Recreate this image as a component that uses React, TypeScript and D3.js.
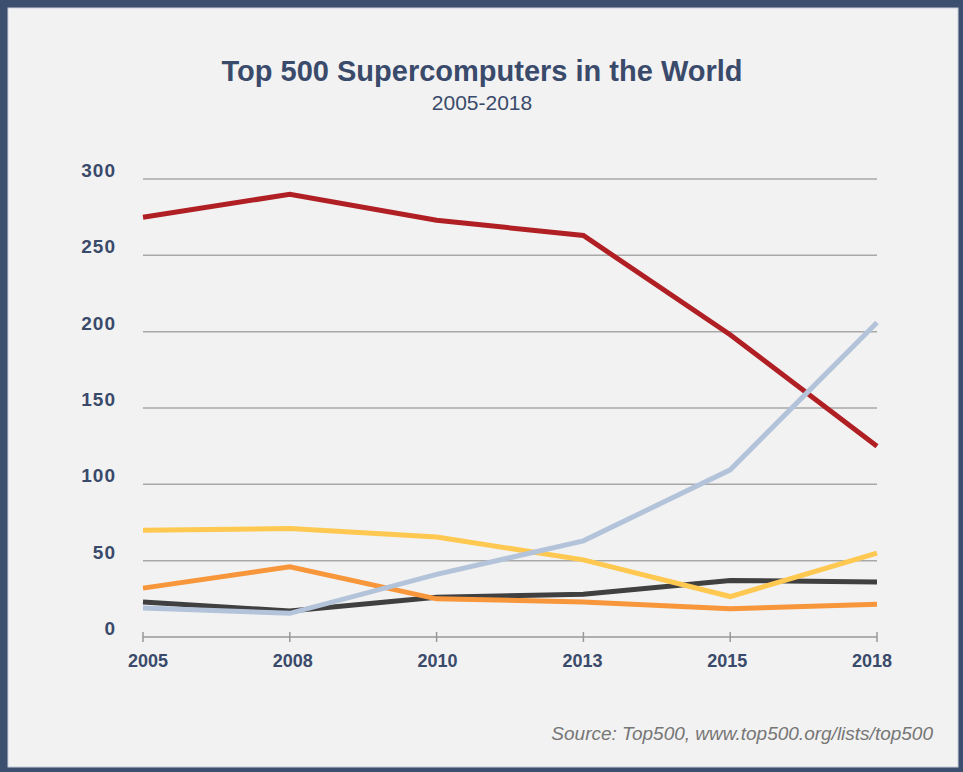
import React from "react";
import * as d3 from "d3";

const years = ["2005", "2008", "2010", "2013", "2015", "2018"];
const yTicks = [0, 50, 100, 150, 200, 250, 300];
const seriesNames = ["red", "lightblue", "yellow", "orange", "dark"];
const redVals = [275, 290, 273, 263, 198, 125];
const blueVals = [19, 15.5, 41, 63, 109.5, 206];
const yellowVals = [70, 71, 65.5, 50.5, 26.5, 55];
const orangeVals = [32, 46, 25, 23, 18.5, 21.5];
const darkVals = [23, 17, 26, 28, 37, 36];
const colors = ["#b01f24", "#b3c3d9", "#fec851", "#f7963a", "#404040"];

const W = 963;
const H = 772;
const navy = "#3a4a6b";

export default function App() {
  const x = d3.scalePoint<string>().domain(years).range([143, 877]);
  const y = d3.scaleLinear().domain([0, 300]).range([637, 179]);
  const line = d3
    .line<number>()
    .x((_, i) => x(years[i]) as number)
    .y((d) => y(d));
  const all = [redVals, blueVals, yellowVals, orangeVals, darkVals];
  const order = [0, 4, 3, 2, 1];
  return (
    <svg
      width={W}
      height={H}
      style={{ position: "absolute", left: 0, top: 0 }}
      fontFamily="'Liberation Sans', Arial, sans-serif"
    >
      <rect x={0} y={0} width={W} height={H} fill="#3d4f6e" />
      <rect x={8} y={8} width={W - 13} height={H - 13} fill="#f2f2f2" stroke="#c9cfdb" strokeWidth={1} />
      <text x={482} y={81} textAnchor="middle" fontSize={29} fontWeight="bold" fill={navy}>
        Top 500 Supercomputers in the World
      </text>
      <text x={482} y={110} textAnchor="middle" fontSize={21} fill={navy}>
        2005-2018
      </text>
      {yTicks.map((t) => (
        <g key={t}>
          {t > 0 && (
            <line x1={143} x2={877} y1={y(t)} y2={y(t)} stroke="#a8a8a8" strokeWidth={1.5} />
          )}
          <text
            x={116}
            y={y(t) - 2}
            textAnchor="end"
            fontSize={19}
            fontWeight="bold"
            fill={navy}
            letterSpacing={1}
          >
            {t}
          </text>
        </g>
      ))}
      <line x1={143} x2={877} y1={y(0)} y2={y(0)} stroke="#999" strokeWidth={1.5} />
      {years.map((yr, i) => (
        <g key={yr}>
          <line x1={x(yr)} x2={x(yr)} y1={y(0) - 5} y2={y(0) + 5} stroke="#999" strokeWidth={1.5} />
          <text
            x={(x(yr) as number) + 5 - i * 2}
            y={667}
            textAnchor="middle"
            fontSize={18}
            fontWeight="bold"
            fill={navy}
          >
            {yr}
          </text>
        </g>
      ))}
      {order.map((i) => (
        <path
          key={seriesNames[i]}
          d={line(all[i]) || ""}
          fill="none"
          stroke={colors[i]}
          strokeWidth={5}
          strokeLinejoin="miter"
        />
      ))}
      <text
        x={933}
        y={740}
        textAnchor="end"
        fontSize={19}
        fontStyle="italic"
        fill="#767676"
      >
        Source: Top500, www.top500.org/lists/top500
      </text>
    </svg>
  );
}
